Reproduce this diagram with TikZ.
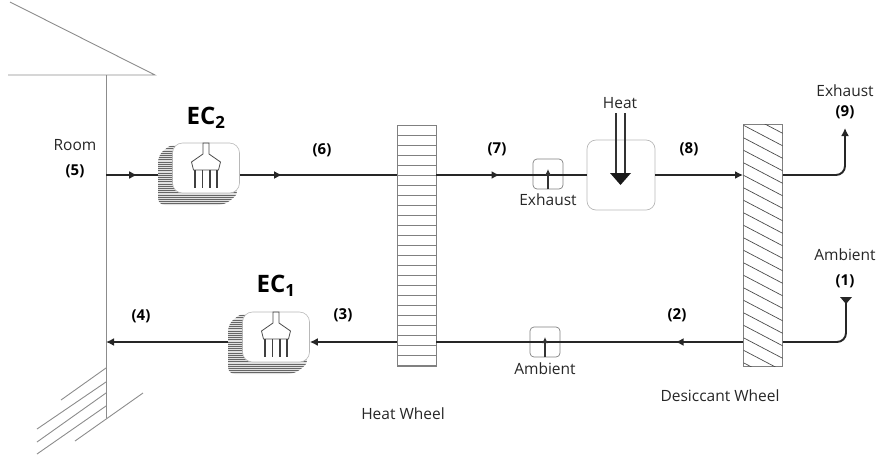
\documentclass[tikz,border=0pt]{standalone}
\usepackage{fontspec}
\setmainfont{Open Sans}
\usetikzlibrary{arrows.meta,decorations.markings}
\definecolor{wallgray}{gray}{0.55}
\definecolor{boxgray}{gray}{0.72}
\tikzset{
  lbl/.style={font=\fontsize{15.5}{17}\selectfont,text=black!85},
  num/.style={font=\fontsize{15}{17}\selectfont\bfseries},
  eclbl/.style={font=\fontsize{24}{26}\selectfont\bfseries},
  wallline/.style={wallgray,line width=0.9pt},
  flow/.style={line width=1.9pt,black!85},
  tip/.style={-{Latex[length=8pt,width=8pt]}},
  midtip/.style={postaction={decorate},decoration={markings,mark=at position #1 with {\arrow{Latex[length=8pt,width=8pt]}}}},
  wheel/.style={draw=black!50,line width=0.9pt,minimum width=39pt,inner sep=0pt},
  padfront/.style={draw=boxgray,fill=white,rounded corners=10pt,line width=0.6pt,minimum width=67pt,minimum height=50pt},
  valve/.style={draw=black!50,rounded corners=4pt,line width=0.7pt,minimum width=30pt,minimum height=30pt},
  pics/brush/.style={code={
    \draw[black!70,line width=0.8pt] (-3,-25) -- (-3,-14) -- (-14.5,-6) -- (-12.5,2) -- (12.5,2) -- (14.5,-6) -- (3,-14) -- (3,-25) -- cycle;
    \foreach \xx in {-11,-3.5,4,11} {\draw[black!75,line width=1.9pt] (\xx,2) -- (\xx,20);}
  }},
}
\newcommand{\padback}[2]{%
\begin{scope}[shift={(#1,#2)}]
\begin{scope}
\clip[rounded corners=7pt] (-33,-25) -- (-48,-13) -- (-48,37) -- (19,37) -- (34,24) -- cycle;
\fill[black!12] (-50,-27) rectangle (36,39);
\foreach \yy in {-26,-23.8,...,38} {\draw[black!60,line width=0.6pt] (-50,\yy) -- (36,\yy);}
\end{scope}
\end{scope}}
\begin{document}
\begin{tikzpicture}[x=1pt,y=-1pt]
\useasboundingbox (0,0) rectangle (880,456);
% house
\draw[wallline] (10,2) -- (155,75) -- (8,75);
\draw[wallline] (106,75) -- (106,418);
\draw[wallline] (61,400) -- (106,368);
\draw[wallline] (37,429) -- (106,382);
\draw[wallline] (37,442) -- (106,393);
\draw[wallline] (37,454) -- (106,406);
\draw[wallline] (75,441) -- (143,393);
\coordinate (room5) at (106,175);
\coordinate (room4) at (106,342);
\coordinate (ec2in) at (158,175);
\coordinate (ec1out) at (228,342);
% wheels
\node[wheel,minimum height=241pt] (heatwheel) at (416.5,245.5) {};
\node[wheel,minimum height=242pt] (deswheel) at (763,245) {};
\foreach \yy in {125,135,...,365} {\draw[black!50,line width=1pt] (397,\yy) -- (436,\yy);}
\begin{scope}
\clip (743.5,124) rectangle (782.5,366);
\foreach \yy in {100,112.5,...,370} {\draw[black!70,line width=0.7pt] (743,\yy) -- (783,\yy+21);}
\end{scope}
% cooler pads
\padback{206}{168}
\padback{276}{337}
\node[padfront] (ec2) at (206,168) {};
\node[padfront] (ec1) at (276,337) {};
\path (206,168) pic {brush};
\path (276,337) pic {brush};
% heater and valves
\node[draw=boxgray,rounded corners=9pt,line width=0.7pt,minimum width=68pt,minimum height=70pt] (heater) at (621,175) {};
\node[valve] (valve7) at (548,174) {};
\node[valve] (valve2) at (545,342) {};
% flow lines
\draw[flow,midtip=0.6] (room5) -- (ec2in);
\draw[flow,midtip=0.27] (ec2.east |- room5) -- (heatwheel.west |- room5);
\draw[flow,midtip=0.42] (heatwheel.east |- room5) -- (heater.west |- room5);
\draw[flow,tip] (heater.east |- room5) -- (deswheel.west |- room5);
\coordinate (out9) at (845,128);
\coordinate (in1) at (846,297);
\draw[flow,tip,rounded corners=9pt] (deswheel.east |- room5) -| (out9);
\draw[flow,rounded corners=9pt] (in1) |- (deswheel.east |- room4);
\draw[flow,midtip=0.22] (deswheel.west |- room4) -- (heatwheel.east |- room4);
\draw[flow,tip] (heatwheel.west |- room4) -- (ec1.east |- room4);
\draw[flow,tip] (ec1out) -- (room4);
\fill[black!85] (840,297) -- (852,297) -- (846,304) -- cycle;
% heat input
\draw[black!80,line width=1.2pt] (616,113) -- (616,176);
\draw[black!80,line width=1.2pt] (625,113) -- (625,176);
\fill[black!90] (610,173) -- (631,173) -- (620.5,185) -- cycle;
% valve arrows
\draw[black!80,line width=1.2pt,-{Latex[length=6pt,width=6pt]}] (valve7.south) -- (548,169);
\draw[black!80,line width=1.2pt,-{Latex[length=6pt,width=6pt]}] (valve2.south) -- (545,337);
% labels
\node[lbl] (roomlbl) at (75,145) {Room};
\node[num] (n5) at (75,171) {(5)};
\node[eclbl] (ec2lbl) at (206,118) {EC$_{\mathbf 2}$};
\node[eclbl] (ec1lbl) at (276,286) {EC$_{\mathbf 1}$};
\node[num] (n6) at (322,150) {(6)};
\node[num] (n7) at (497,149) {(7)};
\node[num] (n8) at (689,149) {(8)};
\node[num] (n4) at (141,316) {(4)};
\node[num] (n3) at (343,315) {(3)};
\node[num] (n2) at (677,315) {(2)};
\node[num] (n9) at (845,112) {(9)};
\node[num] (n1) at (845,281) {(1)};
\node[lbl] (heatlbl) at (620,103) {Heat};
\node[lbl] (exh7) at (548,200) {Exhaust};
\node[lbl] (exh9) at (845,91) {Exhaust};
\node[lbl] (amb1) at (845,255) {Ambient};
\node[lbl] (amb2) at (545,369) {Ambient};
\node[lbl] (hwlbl) at (403,414) {Heat Wheel};
\node[lbl] (dwlbl) at (720,396) {Desiccant Wheel};
\end{tikzpicture}
\end{document}
